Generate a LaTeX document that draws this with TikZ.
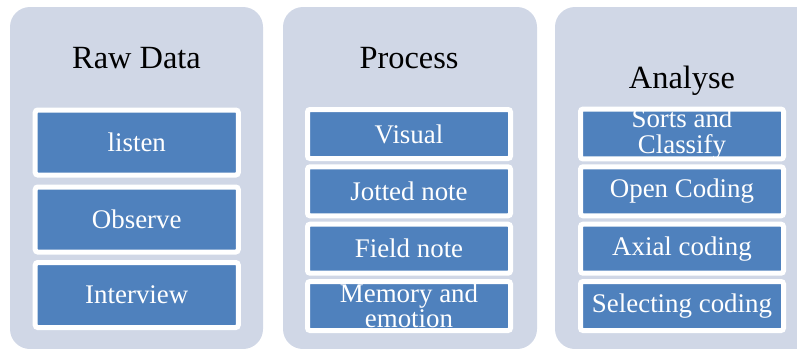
\documentclass[tikz,border=0pt]{standalone}
\usepackage{fontspec}
\setmainfont{Liberation Serif}
\definecolor{panelbg}{RGB}{208,215,230}
\definecolor{boxblue}{RGB}{79,129,189}
\tikzset{
  panel/.style={fill=panelbg, draw=none, rounded corners=20bp},
  title/.style={anchor=base, text=black, font=\fontsize{32.5}{32}\selectfont, inner sep=0pt},
  item/.style={fill=boxblue, draw=white, line width=5bp, rounded corners=2.5bp,
    text=white, align=center, font=\fontsize{27}{25.5}\selectfont, inner sep=0pt,
    minimum width=203bp},
  itemA/.style={item, minimum height=65bp},
  itemB/.style={item, minimum height=49bp},
}
\begin{document}
\begin{tikzpicture}[x=1bp,y=-1bp]
\useasboundingbox (0,0) rectangle (797,348);
\clip (0,0) rectangle (797,348);
% panels
\path[panel] (10,7) rectangle (263,349);
\path[panel] (283,7) rectangle (537,349);
\path[panel] (555,7) rectangle (820,349);
% titles
\node[title] (t1) at (136.5,68) {Raw Data};
\node[title] (t2) at (409,68) {Process};
\node[title] (t3) at (682,88) {Analyse};
% column 1
\node[itemA] (a1) at (136.75,142.5) {listen};
\node[itemA] (a2) at (136.75,219.5) {Observe};
\node[itemA] (a3) at (136.75,295) {Interview};
% column 2
\node[itemB] (b1) at (409,134) {Visual};
\node[itemB] (b2) at (409,191.3) {Jotted note};
\node[itemB] (b3) at (409,248.7) {Field note};
\node[itemB] (b4) at (409,306) {Memory and\\emotion};
% column 3
\node[itemB] (c1) at (682,134) {Sorts and\\Classify};
\node[itemB] (c2) at (682,191.3) {Open Coding};
\node[itemB] (c3) at (682,248.7) {Axial coding};
\node[itemB] (c4) at (682,306) {Selecting coding};
\end{tikzpicture}
\end{document}
